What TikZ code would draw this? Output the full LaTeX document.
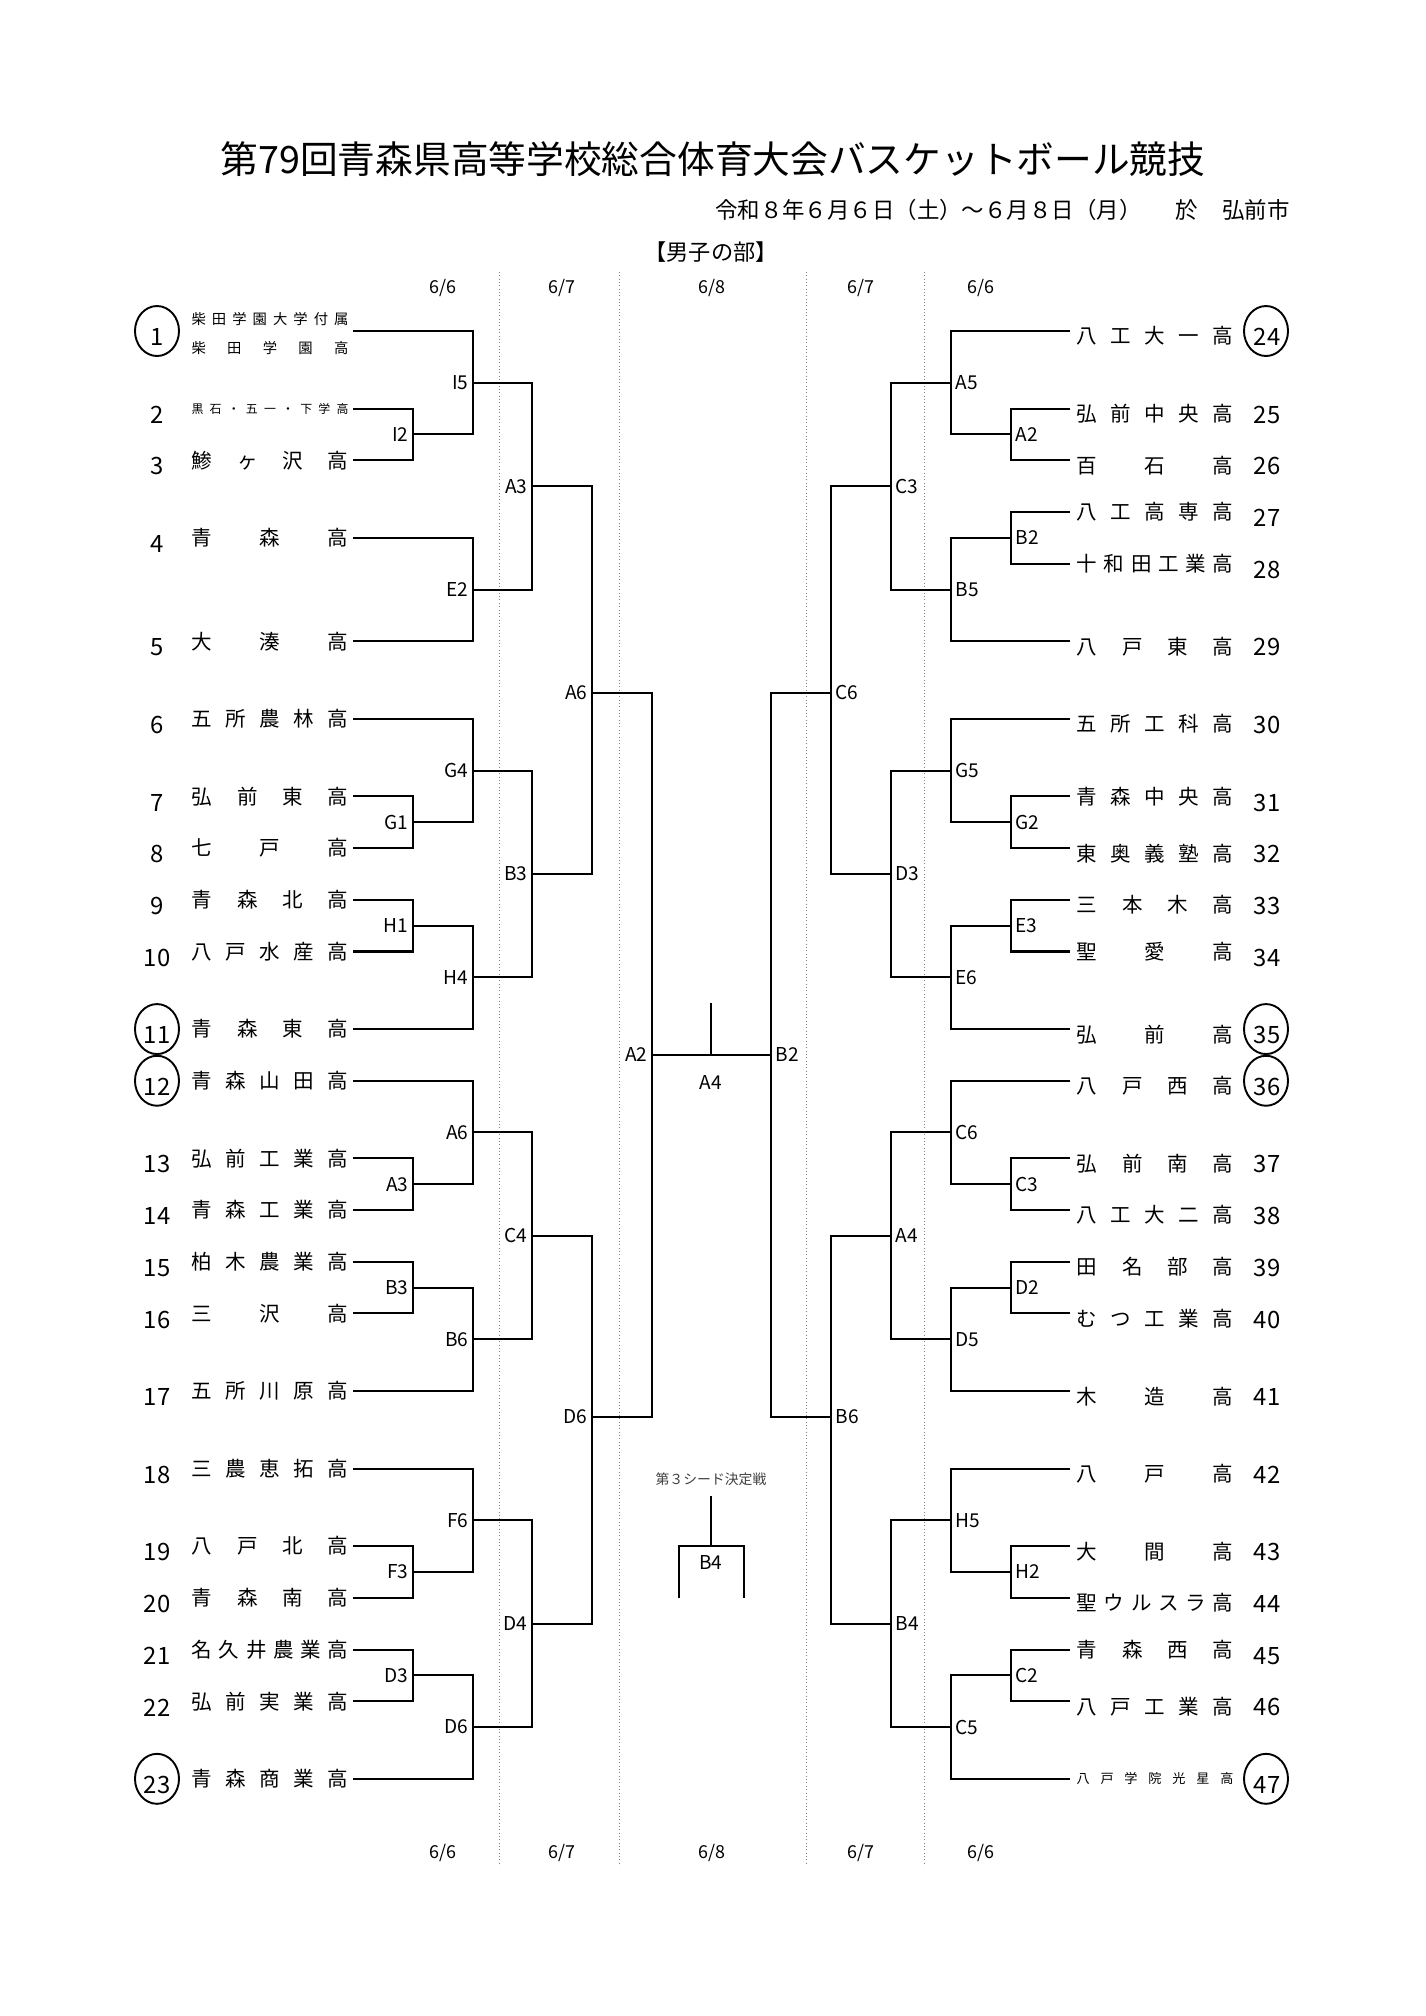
\documentclass[tikz,border=0pt]{standalone}
\usepackage{fontspec}
\setmainfont{Noto Sans CJK JP}

\makeatletter
\newcommand\spreadname[1]{%
  \edef\sn@list{#1}\let\sn@first\relax
  \expandafter\@tfor\expandafter\sn@c\expandafter:\expandafter=\sn@list\do{%
    \ifx\sn@first\relax\else\hfill\fi\sn@c\let\sn@first\empty}}
\makeatother
\newcommand\tbox[1]{\makebox[2.31cm]{\spreadname{#1}}}

\tikzset{
  bracket/.style={line width=0.85pt},
  dayline/.style={gray, line width=0.4pt, densely dotted},
  daylab/.style={inner sep=0pt, font=\fontsize{7.5}{8}\selectfont},
  tname/.style={inner sep=0pt, font=\fontsize{8.6}{9}\selectfont},
  tsmall/.style={inner sep=0pt, font=\fontsize{6}{7}\selectfont},
  tnum/.style={inner sep=0pt, yshift=-0.09cm, font=\fontsize{10}{11}\selectfont},
  seedring/.style={line width=0.8pt},
  mlabL/.style={anchor=east, inner sep=0pt, xshift=-0.06cm, font=\fontsize{8}{9}\selectfont},
  mlabR/.style={anchor=west, inner sep=0pt, xshift=0.06cm, font=\fontsize{8}{9}\selectfont},
}

% match: name, x, row, label, upper entry, lower entry
\newcommand\matchL[6]{%
  \coordinate (#1) at (#2,#3);
  \draw[bracket] (#5) -| (#1) |- (#6);
  \node[mlabL] (#1t) at (#1) {#4};}
\newcommand\matchR[6]{%
  \coordinate (#1) at (#2,#3);
  \draw[bracket] (#5) -| (#1) |- (#6);
  \node[mlabR] (#1t) at (#1) {#4};}

\begin{document}
\begin{tikzpicture}[x=0.0147265cm, y=-0.0147265cm]
\useasboundingbox (0,0) rectangle (1426,2016);

% heading
\node[inner sep=0pt, font=\fontsize{15.8}{17}\selectfont] (title) at (713,159)
  {第79回青森県高等学校総合体育大会バスケットボール競技};
\node[anchor=east, inner sep=0pt, font=\fontsize{9.4}{10}\selectfont] (when) at (1290,210)
  {令和８年６月６日（土）～６月８日（月）\hspace{1.5em}於\hspace{1.1em}弘前市};
\node[inner sep=0pt, font=\fontsize{9.3}{10}\selectfont] (div) at (711,252) {【男子の部】};

% day columns
\foreach \x in {499,619,806,924}
  \draw[dayline] (\x,272) -- (\x,1866);
\foreach \x/\m/\dd in {443/6/6, 562/6/7, 712/6/8, 861/6/7, 981/6/6} {
  \node[daylab] (dt\x) at (\x,288) {\m/\dd};
  \node[daylab] (db\x) at (\x,1853) {\m/\dd};
}

\begin{scope}[shift={(0,331)}, y=-0.38068cm]

% left teams
\foreach \n/\row in {1/0,2/3,3/5,4/8,5/12,6/15,7/18,8/20,9/22,10/24,11/27,12/29,
    13/32,14/34,15/36,16/38,17/41,18/44,19/47,20/49,21/51,22/53,23/56} {
  \node[tnum] (n\n) at (157,\row) {\n};
  \coordinate (p\n) at (353,\row);
}
\foreach \n/\row/\nm in {3/5/鯵ヶ沢高, 4/8/青森高, 5/12/大湊高, 6/15/五所農林高,
    7/18/弘前東高, 8/20/七戸高, 9/22/青森北高, 10/24/八戸水産高, 11/27/青森東高,
    12/29/青森山田高, 13/32/弘前工業高, 14/34/青森工業高, 15/36/柏木農業高,
    16/38/三沢高, 17/41/五所川原高, 18/44/三農恵拓高, 19/47/八戸北高,
    20/49/青森南高, 21/51/名久井農業高, 22/53/弘前実業高, 23/56/青森商業高}
  \node[tname] (t\n) at (270,\row) {\tbox{\nm}};
\node[tsmall] (t1a) at (270,-0.46) {\tbox{柴田学園大学付属}};
\node[tsmall] (t1b) at (270,0.66) {\tbox{柴田学園高}};
\node[tsmall, font=\fontsize{5}{6}\selectfont] (t2) at (270,3) {\tbox{黒石・五一・下学高}};

% right teams
\foreach \n/\row in {24/0,25/3,26/5,27/7,28/9,29/12,30/15,31/18,32/20,33/22,34/24,
    35/27,36/29,37/32,38/34,39/36,40/38,41/41,42/44,43/47,44/49,45/51,46/53,47/56} {
  \node[tnum] (n\n) at (1267,\row) {\n};
  \coordinate (p\n) at (1070,\row);
}
\foreach \n/\row/\nm in {24/0.2/八工大一高, 25/3.2/弘前中央高, 26/5.2/百石高, 27/7/八工高専高,
    28/9/十和田工業高, 29/12.2/八戸東高, 30/15.2/五所工科高, 31/18/青森中央高,
    32/20.2/東奥義塾高, 33/22.2/三本木高, 34/24/聖愛高, 35/27.2/弘前高, 36/29.2/八戸西高,
    37/32.2/弘前南高, 38/34.2/八工大二高, 39/36.2/田名部高, 40/38.2/むつ工業高,
    41/41.2/木造高, 42/44.2/八戸高, 43/47.2/大間高, 44/49.2/聖ウルスラ高, 45/51/青森西高,
    46/53.2/八戸工業高}
  \node[tname] (t\n) at (1155,\row) {\tbox{\nm}};
\node[tsmall, font=\fontsize{5.5}{6}\selectfont] (t47) at (1155,56) {\tbox{八戸学院光星高}};

% seeds
\foreach \row in {0,27,29,56} {
  \draw[seedring] (157,\row) ellipse [x radius=0.324cm, y radius=0.368cm];
  \draw[seedring] (1266,\row) ellipse [x radius=0.324cm, y radius=0.368cm];
}

% left block
\matchL{lI2}{413}{4}{I2}{p2}{p3}
\matchL{lI5}{473}{2}{I5}{p1}{lI2}
\matchL{lE2}{473}{10}{E2}{p4}{p5}
\matchL{lA3}{532}{6}{A3}{lI5}{lE2}
\matchL{lG1}{413}{19}{G1}{p7}{p8}
\matchL{lG4}{473}{17}{G4}{p6}{lG1}
\matchL{lH1}{413}{23}{H1}{p9}{p10}
\matchL{lH4}{473}{25}{H4}{lH1}{p11}
\matchL{lB3}{532}{21}{B3}{lG4}{lH4}
\matchL{lA6}{592}{14}{A6}{lA3}{lB3}
\matchL{lA3b}{413}{33}{A3}{p13}{p14}
\matchL{lA6b}{473}{31}{A6}{p12}{lA3b}
\matchL{lB3b}{413}{37}{B3}{p15}{p16}
\matchL{lB6}{473}{39}{B6}{lB3b}{p17}
\matchL{lC4}{532}{35}{C4}{lA6b}{lB6}
\matchL{lF3}{413}{48}{F3}{p19}{p20}
\matchL{lF6}{473}{46}{F6}{p18}{lF3}
\matchL{lD3}{413}{52}{D3}{p21}{p22}
\matchL{lD6b}{473}{54}{D6}{lD3}{p23}
\matchL{lD4}{532}{50}{D4}{lF6}{lD6b}
\matchL{lD6}{592}{42}{D6}{lC4}{lD4}
\matchL{lA2}{652}{28}{A2}{lA6}{lD6}

% right block
\matchR{rA2}{1011}{4}{A2}{p25}{p26}
\matchR{rA5}{951}{2}{A5}{p24}{rA2}
\matchR{rB2}{1011}{8}{B2}{p27}{p28}
\matchR{rB5}{951}{10}{B5}{rB2}{p29}
\matchR{rC3}{891}{6}{C3}{rA5}{rB5}
\matchR{rG2}{1011}{19}{G2}{p31}{p32}
\matchR{rG5}{951}{17}{G5}{p30}{rG2}
\matchR{rE3}{1011}{23}{E3}{p33}{p34}
\matchR{rE6}{951}{25}{E6}{rE3}{p35}
\matchR{rD3}{891}{21}{D3}{rG5}{rE6}
\matchR{rC6}{831}{14}{C6}{rC3}{rD3}
\matchR{rC3b}{1011}{33}{C3}{p37}{p38}
\matchR{rC6b}{951}{31}{C6}{p36}{rC3b}
\matchR{rD2}{1011}{37}{D2}{p39}{p40}
\matchR{rD5}{951}{39}{D5}{rD2}{p41}
\matchR{rA4}{891}{35}{A4}{rC6b}{rD5}
\matchR{rH2}{1011}{48}{H2}{p43}{p44}
\matchR{rH5}{951}{46}{H5}{p42}{rH2}
\matchR{rC2}{1011}{52}{C2}{p45}{p46}
\matchR{rC5}{951}{54}{C5}{rC2}{p47}
\matchR{rB4}{891}{50}{B4}{rH5}{rC5}
\matchR{rB6}{831}{42}{B6}{rA4}{rB4}
\matchR{rB2f}{771}{28}{B2}{rC6}{rB6}

% final
\coordinate (fin) at (711,28);
\coordinate (fintop) at (711,26);
\draw[bracket] (lA2) -- (rB2f);
\draw[bracket] (fin) -- (fintop);
\node[inner sep=0pt, font=\fontsize{8}{9}\selectfont] (finlab) at (711,29.05) {A4};

% third seed
\coordinate (tq) at (711,45.07);
\coordinate (tm) at (711,47);
\coordinate (tl) at (679,47);
\coordinate (tr) at (744,47);
\coordinate (tlb) at (679,49);
\coordinate (trb) at (744,49);
\draw[bracket] (tlb) -- (tl) -- (tr) -- (trb);
\draw[bracket] (tm) -- (tq);
\node[inner sep=0pt, black!75, font=\fontsize{5.8}{6}\selectfont] (thirdlab) at (711,44.4) {第３シード決定戦};
\node[inner sep=0pt, font=\fontsize{8}{9}\selectfont] (thirdm) at (711,47.62) {B4};

\end{scope}
\end{tikzpicture}
\end{document}
